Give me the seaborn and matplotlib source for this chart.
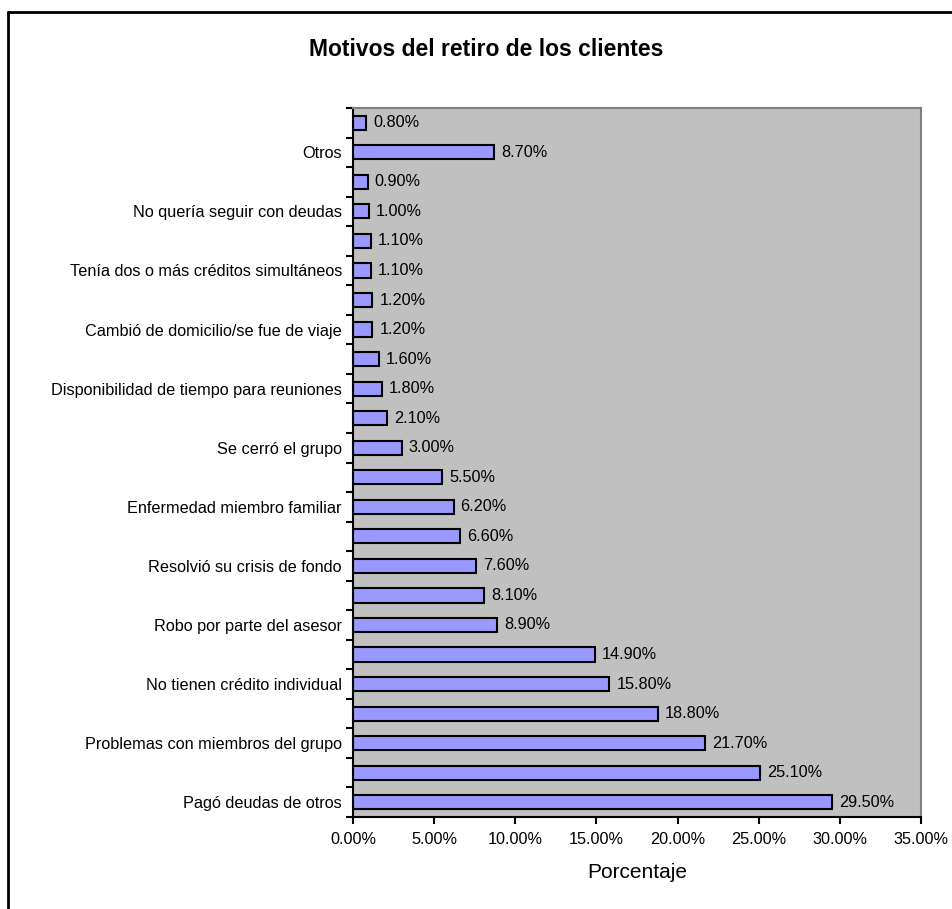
import numpy as np
import pandas as pd
import matplotlib
matplotlib.use("Agg")
import matplotlib.pyplot as plt
from matplotlib.lines import Line2D
from matplotlib.ticker import FuncFormatter, FixedLocator
import seaborn as sns

# Reasons, listed from the top bar down; every second bar has no axis label
motivos = [
    "", "Otros",
    "", "No quería seguir con deudas",
    "", "Tenía dos o más créditos simultáneos",
    "", "Cambió de domicilio/se fue de viaje",
    "", "Disponibilidad de tiempo para reuniones",
    "", "Se cerró el grupo",
    "", "Enfermedad miembro familiar",
    "", "Resolvió su crisis de fondo",
    "", "Robo por parte del asesor",
    "", "No tienen crédito individual",
    "", "Problemas con miembros del grupo",
    "", "Pagó deudas de otros",
]
porcentajes = [0.8, 8.7, 0.9, 1.0, 1.1, 1.1, 1.2, 1.2, 1.6, 1.8, 2.1, 3.0,
               5.5, 6.2, 6.6, 7.6, 8.1, 8.9, 14.9, 15.8, 18.8, 21.7, 25.1, 29.5]
marcas_x = [0, 5, 10, 15, 20, 25, 30, 35]
titulo = "Motivos del retiro de los clientes"
eje_x = "Porcentaje"

sns.set_style("ticks")
plt.rcParams["font.family"] = ["Liberation Sans", "DejaVu Sans"]
plt.rcParams.update({
    "text.color": "black",
    "axes.labelcolor": "black",
    "xtick.color": "black",
    "ytick.color": "black",
    "xtick.labelcolor": "black",
    "ytick.labelcolor": "black",
})

n = len(motivos)
filas = np.arange(n)[::-1]  # first entry sits at the top
df = pd.DataFrame({"fila": filas, "porcentaje": porcentajes, "motivo": motivos})

W, H = 953, 909
fig = plt.figure(figsize=(W / 100, H / 100), dpi=100)
fig.patch.set_facecolor("white")
ax = fig.add_axes([353 / W, 1 - 817 / H, (921 - 353) / W, (817 - 108) / H])
ax.set_facecolor("#C0C0C0")

sns.barplot(data=df, x="porcentaje", y="fila", orient="h", native_scale=True,
            width=0.48, color="#9999FF", saturation=1, edgecolor="black",
            linewidth=1.5, ax=ax)

# value labels next to each bar
for f, v in zip(df["fila"], df["porcentaje"]):
    ax.annotate(f"{v:.2f}%", xy=(v, f), xytext=(7, 0), textcoords="offset pixels",
                ha="left", va="center", fontsize=11.7, color="black")

ax.set_xlim(marcas_x[0], marcas_x[-1])
ax.set_ylim(-0.5, n - 0.5)

# x axis
ax.xaxis.set_major_locator(FixedLocator(marcas_x))
ax.xaxis.set_major_formatter(FuncFormatter(lambda x, _: f"{x:.2f}%"))
ax.tick_params(axis="x", direction="out", length=5, width=1.5, color="black",
               labelcolor="black", labelsize=11.7, pad=6)
ax.set_xlabel(eje_x, fontsize=15, labelpad=11, color="black")

# y axis: labels at bar centres, tick marks at category boundaries
ax.set_yticks(df["fila"])
ax.set_yticklabels(df["motivo"])
ax.tick_params(axis="y", which="major", length=0, labelsize=11.7, pad=8,
               labelcolor="black")
ax.set_yticks(np.arange(n + 1) - 0.5, minor=True)
ax.tick_params(axis="y", which="minor", direction="out", length=5, width=1.5,
               color="black")
ax.set_ylabel("")

for side in ("left", "bottom"):
    ax.spines[side].set_color("black")
    ax.spines[side].set_linewidth(1.5)
for side in ("top", "right"):
    ax.spines[side].set_visible(True)
    ax.spines[side].set_color("#808080")
    ax.spines[side].set_linewidth(1.5)

fig.text(486 / W, 1 - 56 / H, titulo, ha="center", va="baseline",
         fontsize=16.5, fontweight="bold", color="black")

# chart frame
fig.add_artist(Line2D([8 / W, 1.0], [1 - 12 / H, 1 - 12 / H], color="black",
                      linewidth=2, transform=fig.transFigure))
fig.add_artist(Line2D([8 / W, 8 / W], [0.0, 1 - 12 / H], color="black",
                      linewidth=2, transform=fig.transFigure))

fig.savefig("out.png", dpi=100)
